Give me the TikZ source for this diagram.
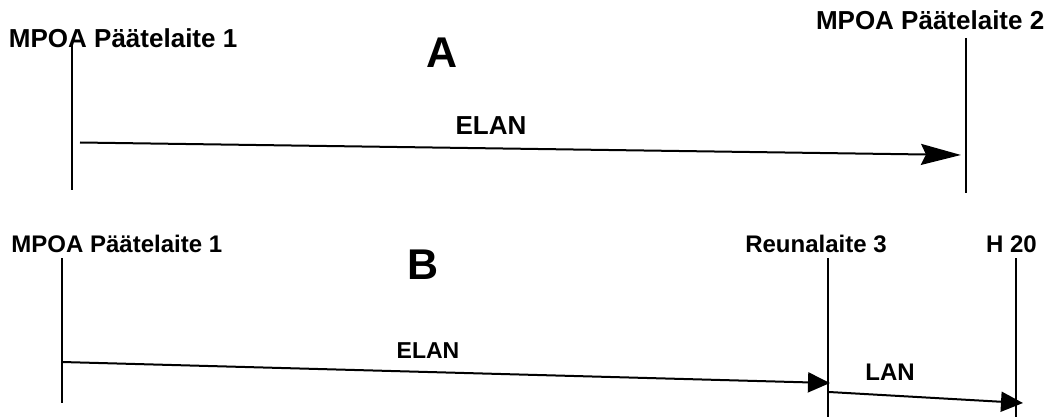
\documentclass[tikz,border=0pt]{standalone}
\usepackage{fontspec}
\setmainfont{Liberation Sans}
\usetikzlibrary{arrows.meta}
\begin{document}
\begin{tikzpicture}[x=1pt,y=-1pt,
  lbl/.style={inner sep=0pt,outer sep=0pt,font=\bfseries\fontsize{24}{28}\selectfont},
  biglbl/.style={inner sep=0pt,outer sep=0pt,font=\bfseries\fontsize{43}{48}\selectfont},
  life/.style={line width=2pt},
  msg/.style={line width=2pt},
  bigtip/.style={-{Stealth[length=40pt,width=21pt,inset=5pt]}},
  smalltip/.style={-{Triangle[length=22pt,width=20pt]}}]
\useasboundingbox (0,0) rectangle (1058,417);
% --- A ---
\node[lbl,font=\bfseries\fontsize{26}{30}\selectfont,anchor=base west] (t1) at (9,48) {MPOA Päätelaite 1};
\node[lbl,font=\bfseries\fontsize{26}{30}\selectfont,anchor=base west] (t2) at (816,30) {MPOA Päätelaite 2};
\node[biglbl,anchor=base] (A) at (442,68) {A};
\node[lbl,font=\bfseries\fontsize{26}{30}\selectfont,anchor=base] (elanA) at (491,135) {ELAN};
\coordinate (a1top) at (72,45);
\coordinate (a1bot) at (72,190);
\coordinate (a2top) at (966,38);
\coordinate (a2bot) at (966,193);
\draw[life] (a1top) -- (a1bot);
\draw[life] (a2top) -- (a2bot);
\coordinate (aS) at (80,142.5);
\coordinate (aE) at (961,155);
\draw[msg,bigtip] (aS) -- (aE);
% --- B ---
\node[lbl,anchor=base west] (b1) at (11.5,252) {MPOA Päätelaite 1};
\node[lbl,anchor=base] (r3) at (816,252) {Reunalaite 3};
\node[lbl,anchor=base] (h20) at (1011.5,252) {H 20};
\node[biglbl,anchor=base] (B) at (423,279) {B};
\node[lbl,font=\bfseries\fontsize{23}{27}\selectfont,anchor=base] (elanB) at (428,358) {ELAN};
\node[lbl,anchor=base] (lan) at (890,380) {LAN};
\coordinate (b1top) at (62,258);
\coordinate (b1bot) at (62,403);
\coordinate (b3top) at (828,258);
\coordinate (b3bot) at (828,417);
\coordinate (b4top) at (1016,258);
\coordinate (b4bot) at (1016,417);
\draw[life] (b1top) -- (b1bot);
\draw[life] (b3top) -- (b3bot);
\draw[life] (b4top) -- (b4bot);
\coordinate (bS) at (62,362);
\coordinate (bE) at (830,383);
\draw[msg,smalltip] (bS) -- (bE);
\coordinate (lS) at (829,392);
\coordinate (lE) at (1023,403);
\draw[msg,smalltip] (lS) -- (lE);
\end{tikzpicture}
\end{document}
